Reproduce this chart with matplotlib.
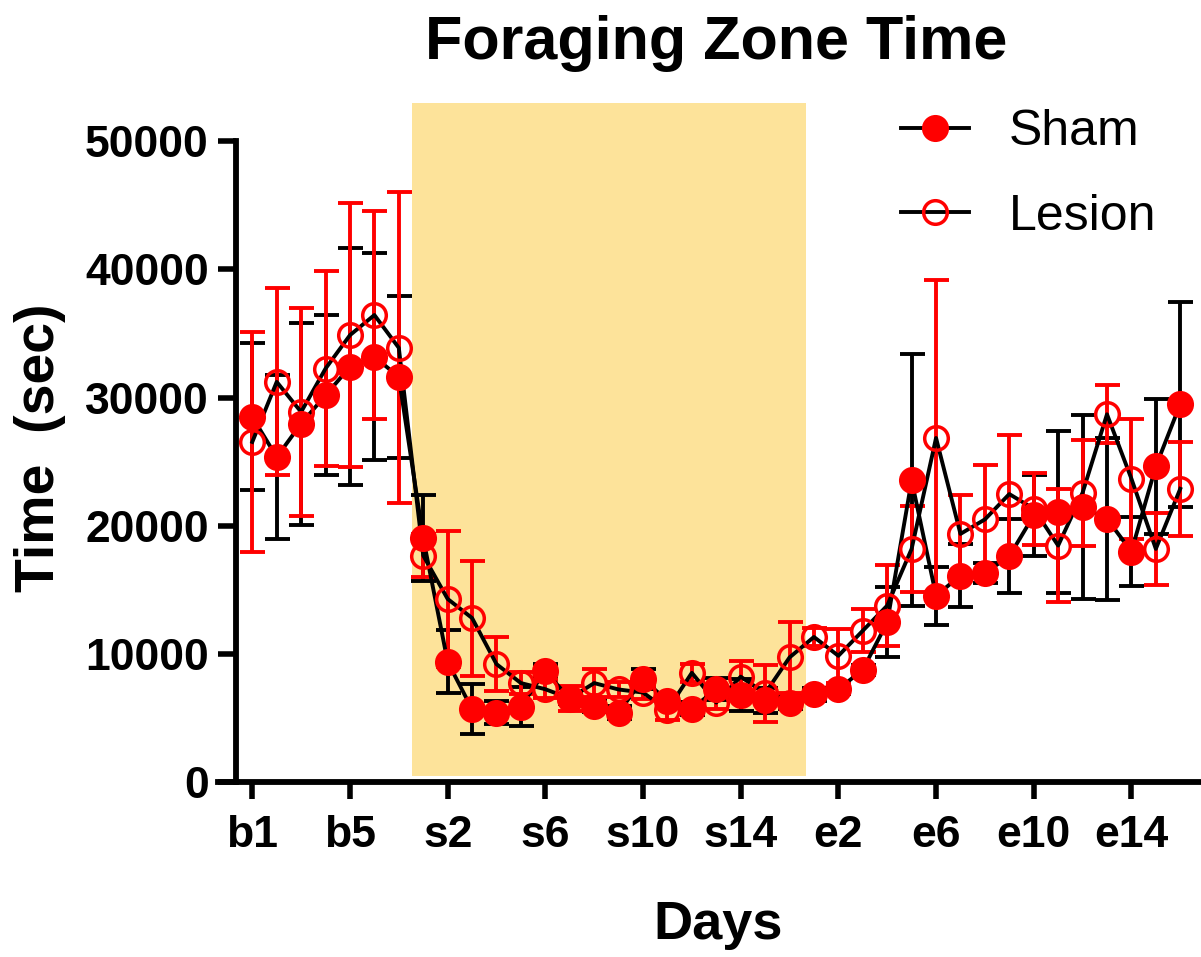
import matplotlib
matplotlib.use("Agg")
import matplotlib.pyplot as plt
from matplotlib.lines import Line2D
import numpy as np

plt.rcParams['font.family'] = ['Liberation Sans', 'DejaVu Sans']

# day labels: 7 baseline, 16 shaded phase, 16 end phase
days = [f"b{i}" for i in range(1, 8)] + [f"s{i}" for i in range(1, 17)] + [f"e{i}" for i in range(1, 17)]

sham_mean = [28480, 25350, 27960, 30180, 32390, 33180, 31610,
             19010, 9360, 5660, 5400, 5870, 8660, 6440, 5920, 5400, 8010, 6310, 5700, 7220, 6770, 6350, 6180,
             6830, 7220, 8740, 12440, 23530, 14530, 16090, 16300, 17610, 20790, 21050, 21440, 20530, 17970, 24620, 29480]
sham_sem = [5740, 6400, 7880, 6260, 9260, 8080, 6340,
            3340, 2450, 1960, 920, 1490, 500, 400, 500, 530, 780, 400, 500, 870, 1220, 990, 500,
            500, 400, 400, 2740, 9830, 2270, 2480, 800, 2880, 3130, 6310, 7170, 6310, 2660, 5290, 8000]

lesion_mean = [26530, 31220, 28870, 32260, 34870, 36440, 33880,
               17660, 14270, 12780, 9180, 7700, 7220, 6500, 7700, 7200, 6960, 5600, 8500, 6180, 8200, 6900, 9700,
               11300, 9830, 11790, 13750, 18180, 26840, 19350, 20480, 22460, 21310, 18440, 22560, 28690, 23660, 18180, 22870]
lesion_sem = [8600, 7300, 8090, 7620, 10300, 8130, 12130,
              1700, 5320, 4490, 2090, 860, 700, 1000, 1100, 600, 500, 800, 700, 500, 1200, 2250, 2800,
              700, 2090, 1700, 3180, 3340, 12340, 3050, 4270, 4590, 2810, 4430, 4150, 2270, 4690, 2820, 3660]

tick_days = ["b1", "b5", "s2", "s6", "s10", "s14", "e2", "e6", "e10", "e14"]
yticks = [0, 10000, 20000, 30000, 40000, 50000]

x = np.arange(len(days))

fig = plt.figure(figsize=(12.01, 9.57), dpi=100)
ax = fig.add_axes([0.1815, 0.1832, 0.8185, 0.7092])

# shaded surgery period
ax.axvspan(6.56, 22.66, ymin=0.008, ymax=1.0, color='#FDE39A', lw=0, zorder=0)

ax.errorbar(x, sham_mean, yerr=sham_sem, fmt='none', ecolor='black',
            elinewidth=2.8, capsize=9, capthick=2.8, zorder=3)
ax.errorbar(x, lesion_mean, yerr=lesion_sem, fmt='none', ecolor='red',
            elinewidth=2.8, capsize=9, capthick=2.8, zorder=4)
ax.plot(x, sham_mean, color='black', lw=2.8, zorder=5)
ax.plot(x, lesion_mean, color='black', lw=2.8, zorder=5)
ax.plot(x, lesion_mean, ls='none', marker='o', ms=17, mfc='none', mec='red', mew=2.5, zorder=6)
ax.plot(x, sham_mean, ls='none', marker='o', ms=19.5, mfc='red', mec='red', mew=0, zorder=7)

ax.set_xlim(-1.405, 38.85)
ax.set_ylim(0, 53000)

for s in ['top', 'right']:
    ax.spines[s].set_visible(False)
ax.spines['left'].set_position(('data', -0.647))
ax.spines['left'].set_bounds(0, 50000)
ax.spines['left'].set_linewidth(4.2)
ax.spines['bottom'].set_linewidth(4.2)

ax.set_xticks([days.index(d) for d in tick_days])
ax.set_xticklabels(tick_days)
ax.set_yticks(yticks)
ax.set_yticklabels([str(v) for v in yticks])
ax.tick_params(axis='both', direction='out', width=4, labelsize=32)
ax.tick_params(axis='y', length=13, pad=7)
ax.tick_params(axis='x', length=12, pad=12)
for lbl in ax.get_xticklabels() + ax.get_yticklabels():
    lbl.set_fontweight('bold')

fig.text(716 / 1201, 1 - 44 / 957, "Foraging Zone Time", fontsize=44, fontweight='bold',
         ha='center', va='center')
fig.text(40 / 1201, 1 - 448 / 957, "Time  (sec)", fontsize=40, fontweight='bold',
         rotation=90, ha='center', va='center')
fig.text(718 / 1201, 1 - 925 / 957, "Days", fontsize=39, fontweight='bold',
         ha='center', va='center')

handles = [
    Line2D([], [], color='black', lw=2.8, marker='o', ms=19.5, mfc='red', mec='red', mew=0),
    Line2D([], [], color='black', lw=2.8, marker='o', ms=17, mfc='none', mec='red', mew=2.5),
]
ax.legend(handles, ["Sham", "Lesion"], loc='upper left', bbox_to_anchor=(901 / 1201, 1 - 109 / 957),
          bbox_transform=fig.transFigure, frameon=False, fontsize=36, handlelength=1.36,
          handletextpad=0.8, labelspacing=0.77, borderpad=0, borderaxespad=0)

fig.savefig("out.png", dpi=100)
